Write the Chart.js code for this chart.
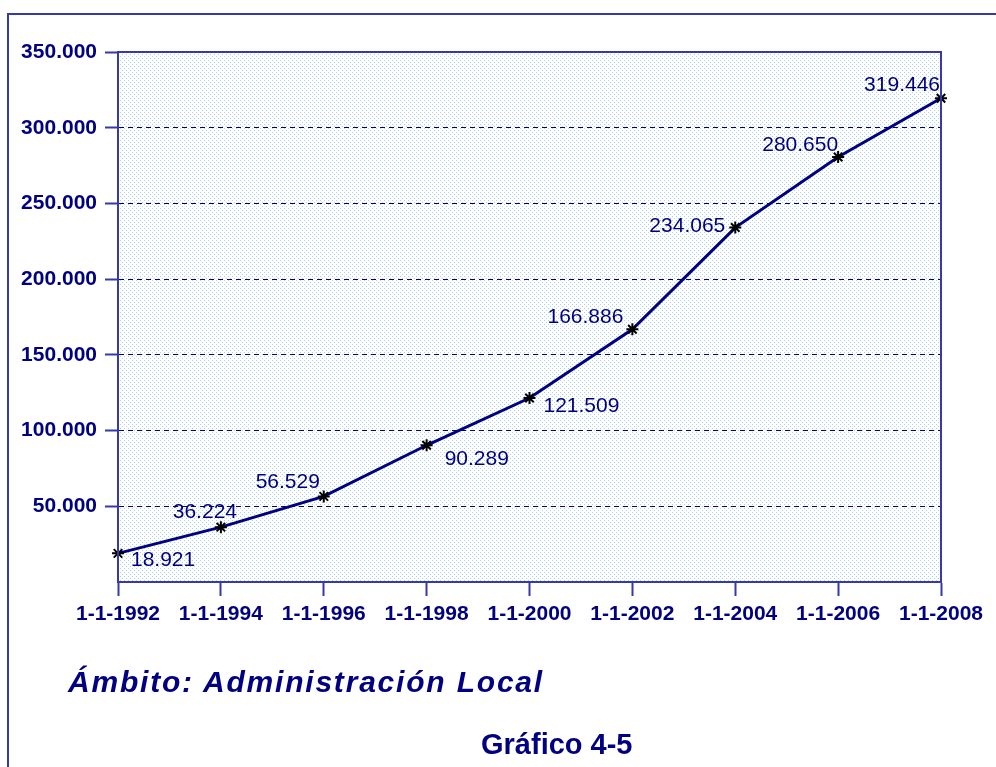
<!DOCTYPE html>
<html lang="es">
<head>
    <meta charset="UTF-8">
    <title>Gráfico 4-5</title>
    <script src="https://cdn.jsdelivr.net/npm/chart.js"></script>
    <style>
        body { margin: 0; background: #fff; }
        .wrap { position: relative; width: 996px; height: 767px; overflow: hidden; }
        .frame {
            position: absolute; left: 7px; top: 13px; width: 1000px; height: 800px;
            border-left: 2px solid #3838a8; border-top: 2px solid #3838a8;
        }
        canvas { position: absolute; left: 0; top: 0; }
        .ambito {
            position: absolute; left: 68px; top: 665px;
            font: italic bold 30px "Liberation Sans", Arial, sans-serif; color: #000080;
            letter-spacing: 1.8px;
        }
        .numero {
            position: absolute; left: 481px; top: 728px;
            font: bold 29px "Liberation Sans", Arial, sans-serif; color: #000080;
        }
    </style>
</head>
<body>
    <div class="wrap">
        <div class="frame"></div>
        <canvas id="grafico" width="996" height="767"></canvas>
        <div class="ambito">Ámbito: Administración Local</div>
        <div class="numero">Gráfico 4-5</div>
    </div>

    <script>
        // datos
        const fechas = ['1-1-1992', '1-1-1994', '1-1-1996', '1-1-1998', '1-1-2000', '1-1-2002', '1-1-2004', '1-1-2006', '1-1-2008'];
        const valores = [18921, 36224, 56529, 90289, 121509, 166886, 234065, 280650, 319446];
        const etiquetas = ['18.921', '36.224', '56.529', '90.289', '121.509', '166.886', '234.065', '280.650', '319.446'];
        const yTicks = [50000, 100000, 150000, 200000, 250000, 300000, 350000];

        // where each value label sits next to its point
        const colocacion = [
            ['left', 13, 7], ['center', -16, -15], ['center', -36, -14],
            ['left', 18, 14], ['left', 14, 8], ['right', -9, -12],
            ['right', -10, -1], ['right', 0, -12], ['right', -1, -13]
        ];

        const azul = '#000080';
        const borde = '#3838a8';
        const fuente = '"Liberation Sans", Arial, sans-serif';

        // dotted background
        const tile = document.createElement('canvas');
        tile.width = 4; tile.height = 4;
        const tctx = tile.getContext('2d');
        tctx.fillStyle = '#ffffff';
        tctx.fillRect(0, 0, 4, 4);
        tctx.fillStyle = '#a9cff5';
        tctx.fillRect(0, 0, 1, 1);
        tctx.fillRect(2, 2, 1, 1);

        const fondo = {
            id: 'fondo',
            beforeDraw(chart) {
                const { ctx, chartArea: a } = chart;
                ctx.save();
                ctx.fillStyle = ctx.createPattern(tile, 'repeat');
                ctx.fillRect(a.left, a.top, a.right - a.left, a.bottom - a.top);
                ctx.restore();
            },
            afterDatasetsDraw(chart) {
                const { ctx, chartArea: a } = chart;
                ctx.save();
                ctx.strokeStyle = borde;
                ctx.lineWidth = 2;
                ctx.strokeRect(a.left, a.top, a.right - a.left, a.bottom - a.top);
                // value labels
                const meta = chart.getDatasetMeta(0);
                ctx.font = '21px ' + fuente;
                ctx.fillStyle = azul;
                ctx.textBaseline = 'middle';
                meta.data.forEach((p, i) => {
                    const c = colocacion[i];
                    ctx.textAlign = c[0];
                    ctx.fillText(etiquetas[i], p.x + c[1], p.y + c[2]);
                });
                ctx.restore();
            }
        };

        new Chart(document.getElementById('grafico'), {
            type: 'line',
            data: {
                labels: fechas,
                datasets: [{
                    data: valores,
                    borderColor: azul,
                    borderWidth: 3,
                    tension: 0,
                    pointStyle: 'star',
                    pointRadius: 6,
                    pointBorderColor: '#000000',
                    pointBackgroundColor: '#000000',
                    pointBorderWidth: 2,
                    clip: false
                }]
            },
            options: {
                responsive: false,
                animation: false,
                layout: { padding: { left: 0, top: 52, right: 55, bottom: 0 } },
                plugins: {
                    legend: { display: false },
                    tooltip: { enabled: false }
                },
                scales: {
                    x: {
                        offset: false,
                        afterFit: s => { s.height = 185; },
                        grid: { drawOnChartArea: false, color: borde, tickLength: 14, tickWidth: 2 },
                        border: { color: borde, width: 2 },
                        ticks: {
                            color: azul, padding: 6, maxRotation: 0, autoSkip: false,
                            font: { family: fuente, size: 21, weight: 'bold' }
                        }
                    },
                    y: {
                        min: 0,
                        max: 350000,
                        afterFit: s => { s.width = 118; },
                        afterBuildTicks: s => { s.ticks = [0].concat(yTicks).map(v => ({ value: v })); },
                        grid: {
                            color: c => c.tick && c.tick.value === 0 ? 'rgba(0,0,0,0)' : azul,
                            tickColor: c => c.tick && c.tick.value === 0 ? 'rgba(0,0,0,0)' : borde,
                            tickLength: 13, tickWidth: 2, tickBorderDash: []
                        },
                        border: { color: borde, width: 2, dash: [5, 4] },
                        ticks: {
                            color: azul, padding: 8,
                            font: { family: fuente, size: 21, weight: 'bold' },
                            callback: v => v === 0 ? '' : v.toLocaleString('de-DE')
                        }
                    }
                }
            },
            plugins: [fondo]
        });
    </script>
</body>
</html>
